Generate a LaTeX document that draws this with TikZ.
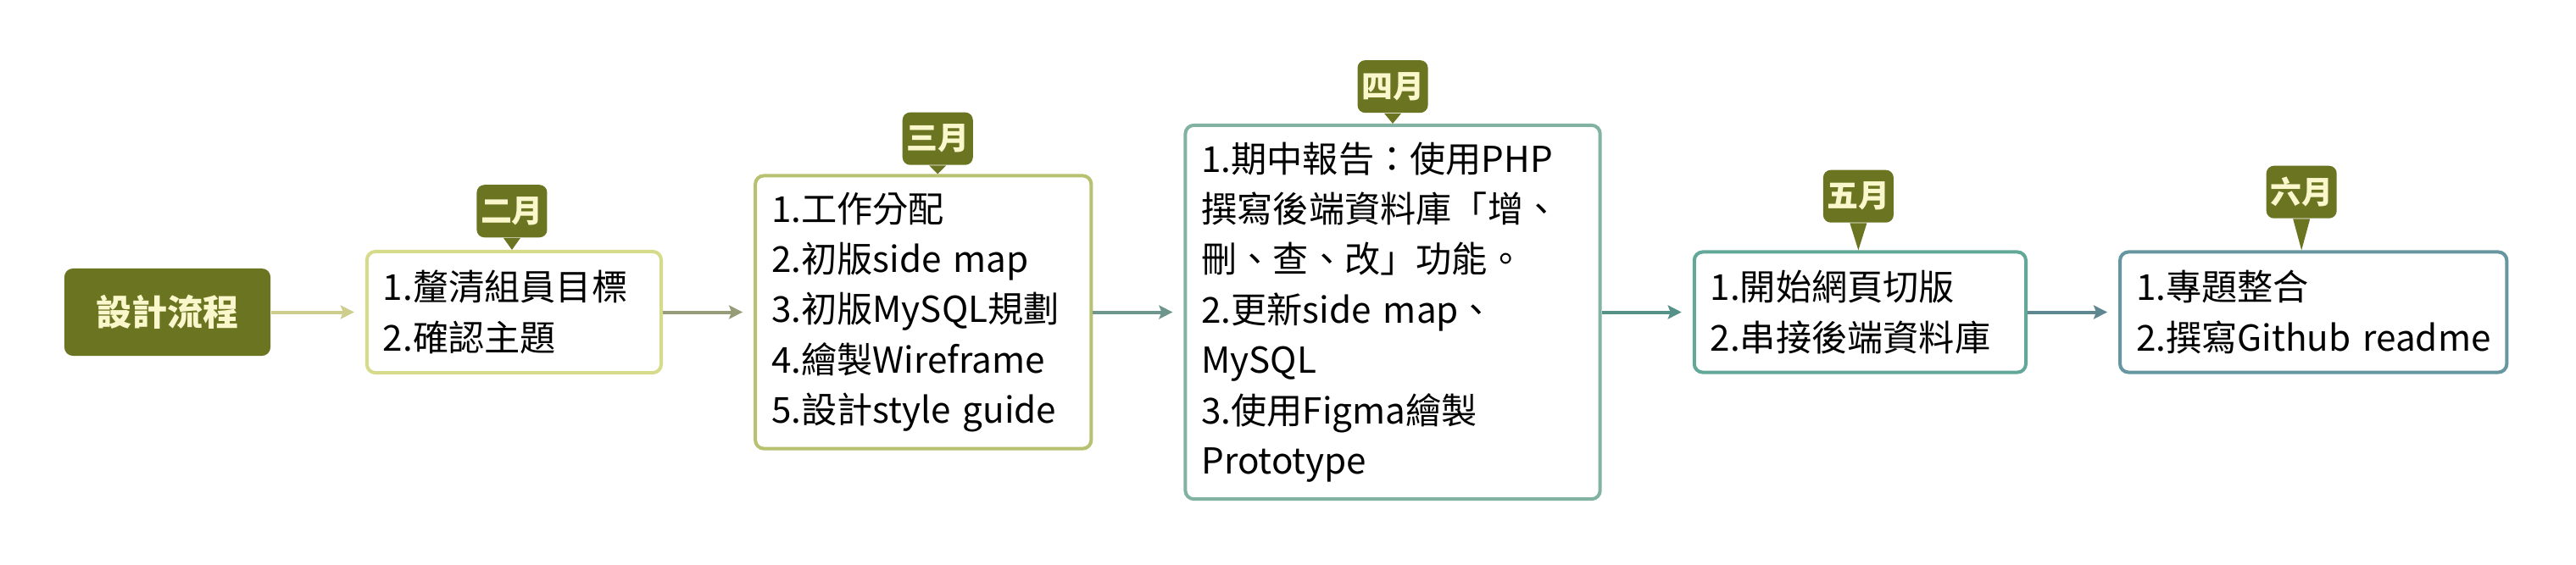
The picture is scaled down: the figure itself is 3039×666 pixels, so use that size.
\documentclass[tikz,border=0pt]{standalone}
\usepackage{fontspec}
\setmainfont{Noto Sans CJK TC}
\usetikzlibrary{positioning,arrows.meta}
\definecolor{moss}{RGB}{107,117,33}
\definecolor{cream}{RGB}{250,247,205}
\definecolor{febline}{RGB}{214,219,140}
\definecolor{marline}{RGB}{184,193,112}
\definecolor{aprline}{RGB}{130,178,162}
\definecolor{mayline}{RGB}{98,168,152}
\definecolor{junline}{RGB}{102,150,160}
\definecolor{flowa}{RGB}{205,205,140}
\definecolor{flowb}{RGB}{150,155,120}
\definecolor{flowc}{RGB}{110,150,140}
\definecolor{flowd}{RGB}{85,145,135}
\definecolor{flowe}{RGB}{95,135,145}
\begin{document}
\begin{tikzpicture}[
        x=0.01cm, y=-0.01cm,
        node distance=1.07cm,
        start/.style={fill=moss,text=cream,rounded corners=0.1cm,minimum width=2.43cm,minimum height=1.03cm,font=\fontsize{12pt}{14pt}\selectfont\bfseries},
        task/.style={draw=#1,line width=0.04cm,fill=white,rounded corners=0.1cm,inner xsep=0.19cm,align=left,font=\fontsize{12pt}{16.9pt}\selectfont},
        month/.style={fill=moss,text=cream,rounded corners=0.09cm,minimum width=0.83cm,minimum height=0.62cm,inner sep=0pt,font=\fontsize{10.5pt}{12pt}\selectfont\bfseries},
        flow/.style={draw=#1,line width=0.04cm,-{Stealth[length=0.16cm,width=0.16cm,inset=0.03cm]},shorten >=0.13cm},
        ]
    \useasboundingbox (0,0) rectangle (3039,666);
    \node (st) [start] at (197.5,368.5) {設計流程};
    \node (feb) [task=febline, text width=3.09cm, minimum height=1.43cm, right=1.11cm of st]
        {1.釐清組員目標\\2.確認主題};
    \node (mar) [task=marline, text width=3.58cm, minimum height=3.22cm, right=of feb]
        {1.工作分配\\2.初版side~map\\3.初版MySQL規劃\\4.繪製Wireframe\\5.設計style~guide};
    \node (apr) [task=aprline, text width=4.51cm, minimum height=4.41cm, right=of mar]
        {1.期中報告：使用PHP\\撰寫後端資料庫「增、\\刪、查、改」功能。\\2.更新side~map、\\MySQL\\3.使用Figma繪製\\Prototype};
    \node (may) [task=mayline, text width=3.53cm, minimum height=1.42cm, right=of apr]
        {1.開始網頁切版\\2.串接後端資料庫};
    \node (jun) [task=junline, text width=4.18cm, minimum height=1.42cm, right=of may]
        {1.專題整合\\2.撰寫Github~readme};
    % month labels
    \node (tfeb) [month, above=0.14cm of feb, xshift=-0.025cm] {二月};
    \node (tmar) [month, above=0.1cm of mar, xshift=0.17cm] {三月};
    \node (tapr) [month, above=0.12cm of apr] {四月};
    \node (tmay) [month, above=0.32cm of may, xshift=-0.02cm] {五月};
    \node (tjun) [month, above=0.37cm of jun, xshift=-0.14cm] {六月};
    \fill[moss] ([xshift=-0.1cm]tfeb.south) -- ([xshift=0.1cm]tfeb.south) -- (tfeb.south |- feb.north) -- cycle;
    \fill[moss] ([xshift=-0.1cm]tmar.south) -- ([xshift=0.1cm]tmar.south) -- (tmar.south |- mar.north) -- cycle;
    \fill[moss] ([xshift=-0.1cm]tapr.south) -- ([xshift=0.1cm]tapr.south) -- (tapr.south |- apr.north) -- cycle;
    \fill[moss] ([xshift=-0.1cm]tmay.south) -- ([xshift=0.1cm]tmay.south) -- (tmay.south |- may.north) -- cycle;
    \fill[moss] ([xshift=-0.1cm]tjun.south) -- ([xshift=0.1cm]tjun.south) -- (tjun.south |- jun.north) -- cycle;
    % arrows
    \draw[flow=flowa] (st) -- (feb);
    \draw[flow=flowb] (feb) -- (mar);
    \draw[flow=flowc] (mar) -- (apr);
    \draw[flow=flowd] (apr) -- (may);
    \draw[flow=flowe] (may) -- (jun);
\end{tikzpicture}
\end{document}
